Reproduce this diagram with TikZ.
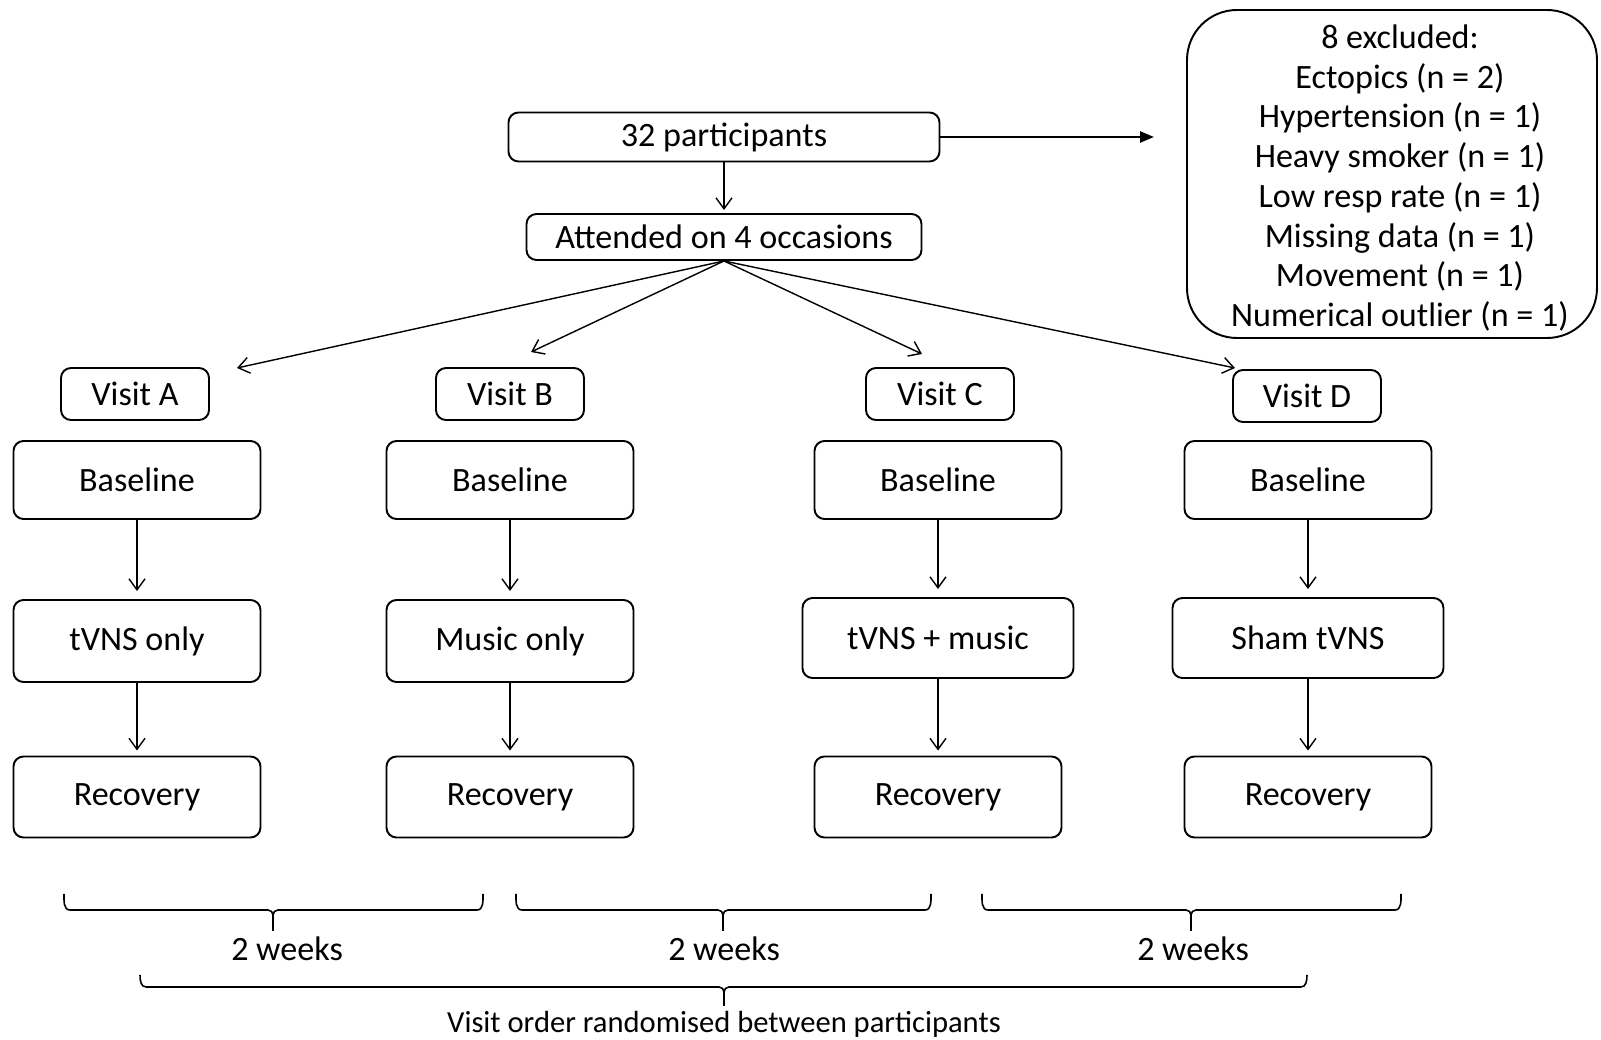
\documentclass[tikz,border=0pt]{standalone}
\usepackage{fontspec}
\setmainfont{Carlito}
\usetikzlibrary{
		arrows.meta,
		positioning
	}
\tikzset{
		>={Straight Barb[length=0.11cm,width=0.16cm]},
		box/.style={draw, rounded corners=0.1cm, line width=0.55pt, inner sep=0pt,
			minimum width=2.47cm, minimum height=0.8cm},
		visitbox/.style={box, minimum width=1.48cm, minimum height=0.52cm},
		flow/.style={->, line width=0.4pt, shorten >=0.08cm}
	}

\begin{document}
\begin{tikzpicture}[font=\fontsize{9.7pt}{11.3pt}\selectfont]
\useasboundingbox (0,0) rectangle (16.01,-10.40);
% top part
\node[box, minimum width=4.31cm, minimum height=0.49cm] (part) at (7.24,-1.37) {32 participants};
\node[box, minimum width=3.95cm, minimum height=0.46cm] (att) at (7.24,-2.37) {Attended on 4 occasions};
\node[box, rounded corners=0.5cm, minimum width=4.10cm, minimum height=3.28cm] (excl) at (13.92,-1.74) {};
\node[align=center, inner sep=0pt] (exclText) at (14.00,-1.78)
	{8 excluded:\\ Ectopics (n = 2)\\ Hypertension (n = 1)\\ Heavy smoker (n = 1)\\ Low resp rate (n = 1)\\ Missing data (n = 1)\\ Movement (n = 1)\\ Numerical outlier (n = 1)};
\coordinate (exclTip) at (11.54,-1.37);
\draw[-{Triangle[length=0.14cm,width=0.11cm]}, line width=0.7pt] (part) -- (exclTip);
\draw[flow, shorten >=0.03cm] (part) -- (att);
% visits
\node[visitbox] (visA) at (1.35,-3.94) {Visit A};
\node[visitbox] (visB) at (5.10,-3.94) {Visit B};
\node[visitbox] (visC) at (9.40,-3.94) {Visit C};
\node[visitbox] (visD) at (13.07,-3.96) {Visit D};
\coordinate (tipA) at (2.37,-3.68);
\coordinate (tipB) at (5.31,-3.52);
\coordinate (tipC) at (9.22,-3.54);
\coordinate (tipD) at (12.35,-3.68);
\foreach \t in {tipA,tipB,tipC,tipD}
	\draw[->, line width=0.4pt] (att.south) -- (\t);
% the four columns
\node[box, minimum height=0.78cm] (baseA) at (1.37,-4.80) {Baseline};
\node[box, minimum height=0.78cm] (baseB) at (5.10,-4.80) {Baseline};
\node[box, minimum height=0.78cm] (baseC) at (9.38,-4.80) {Baseline};
\node[box, minimum height=0.78cm] (baseD) at (13.08,-4.80) {Baseline};
\node[box, minimum height=0.82cm] (treatA) at (1.37,-6.41) {tVNS only};
\node[box, minimum height=0.82cm] (treatB) at (5.10,-6.41) {Music only};
\node[box, minimum width=2.71cm] (treatC) at (9.38,-6.38) {tVNS + music};
\node[box, minimum width=2.71cm] (treatD) at (13.08,-6.38) {Sham tVNS};
\node[box, minimum height=0.81cm] (recA) at (1.37,-7.97) {Recovery};
\node[box, minimum height=0.81cm] (recB) at (5.10,-7.97) {Recovery};
\node[box, minimum height=0.81cm] (recC) at (9.38,-7.97) {Recovery};
\node[box, minimum height=0.81cm] (recD) at (13.08,-7.97) {Recovery};
\foreach \c in {A,B,C,D} {
	\draw[flow] (base\c) -- (treat\c);
	\draw[flow, shorten >=0.05cm] (treat\c) -- (rec\c);
}
% braces
\foreach \xa/\xm/\xb/\yt/\yh/\yb in {0.64/2.73/4.83/-8.94/-9.10/-9.31,
		5.16/7.23/9.31/-8.94/-9.10/-9.31,
		9.82/11.91/14.01/-8.94/-9.10/-9.31,
		1.40/7.24/13.07/-9.75/-9.87/-10.06} {
	\draw[line width=0.45pt] (\xa,\yt) to[out=-90,in=180] (\xa+0.06,\yh) -- (\xm-0.05,\yh)
		to[out=0,in=90] (\xm,\yh-0.05) -- (\xm,\yb);
	\draw[line width=0.45pt] (\xm,\yh-0.05) to[out=90,in=180] (\xm+0.05,\yh) -- (\xb-0.06,\yh)
		to[out=0,in=-90] (\xb,\yt);
}
\node (wk1) at (2.87,-9.49) {2 weeks};
\node (wk2) at (7.24,-9.49) {2 weeks};
\node (wk3) at (11.93,-9.49) {2 weeks};
\node[font=\fontsize{8.7pt}{10pt}\selectfont] (order) at (7.24,-10.24) {Visit order randomised between participants};
\end{tikzpicture}
\end{document}
